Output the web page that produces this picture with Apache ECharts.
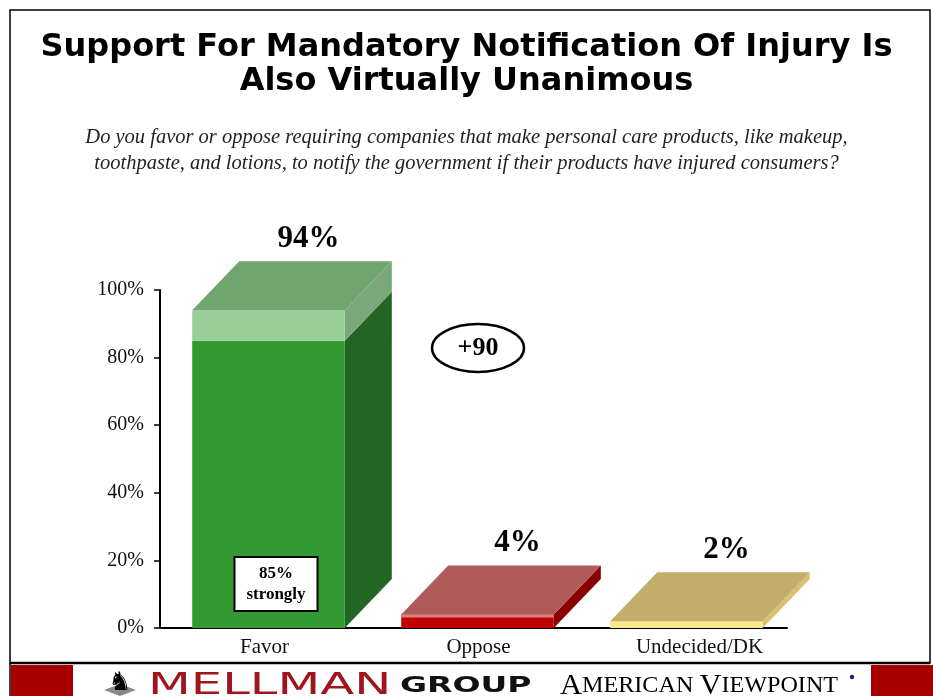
<!DOCTYPE html>
<html>
<head>
<meta charset="utf-8">
<script src="https://cdn.jsdelivr.net/npm/echarts@6/dist/echarts.min.js"></script>
<style>
  html, body { margin: 0; padding: 0; background: #fff; }
  #chart { width: 933px; height: 696px; }
</style>
</head>
<body>
<div id="chart"></div>
<script>
  // data
  const categories = ['Favor', 'Oppose', 'Undecided/DK'];
  const totals = [94, 4, 2];
  const strongly = [85, 0, 0];
  const valueLabels = ['94%', '4%', '2%'];
  const yTicks = [0, 20, 40, 60, 80, 100];

  // colours per bar: front, side, top, band front, band side
  const palette = [
    {front: '#339933', side: '#236623', top: '#6fa56f', bandFront: '#98cf98', bandSide: '#7aa87a'},
    {front: '#c00000', side: '#8a0000', top: '#b05a5a', bandFront: '#d98080', bandSide: '#8a0000'},
    {front: '#f8ea8a', side: '#d9c070', top: '#c3ad6a', bandFront: '#f8ea8a', bandSide: '#d9c070'}
  ];
  const DX = 47, DY = 49; // fake 3d depth

  const chart = echarts.init(document.getElementById('chart'));

  function renderBar(params, api) {
    const idx = api.value(0);
    const total = api.value(1);
    const strong = api.value(2);
    const c = palette[idx];
    const p0 = api.coord([idx, 0]);
    const bw = api.size([1, 0])[0];
    const fw = bw * 0.73;
    const cx = p0[0] + 4;
    const left = cx - fw / 2, right = cx + fw / 2;
    const base = p0[1];
    const topY = api.coord([idx, total])[1];
    const kids = [];

    if (strong > 0) {
      const sY = api.coord([idx, strong])[1];
      kids.push({type: 'polygon', shape: {points: [[right, base], [right + DX, base - DY], [right + DX, sY - DY], [right, sY]]}, style: {fill: c.side}});
      kids.push({type: 'polygon', shape: {points: [[right, sY], [right + DX, sY - DY], [right + DX, topY - DY], [right, topY]]}, style: {fill: c.bandSide}});
      kids.push({type: 'rect', shape: {x: left, y: sY, width: fw, height: base - sY}, style: {fill: c.front}});
      kids.push({type: 'rect', shape: {x: left, y: topY, width: fw, height: sY - topY}, style: {fill: c.bandFront}});
    } else {
      kids.push({type: 'polygon', shape: {points: [[right, base], [right + DX, base - DY], [right + DX, topY - DY], [right, topY]]}, style: {fill: c.side}});
      kids.push({type: 'rect', shape: {x: left, y: topY, width: fw, height: base - topY}, style: {fill: c.front}});
      kids.push({type: 'rect', shape: {x: left, y: topY, width: fw, height: 3}, style: {fill: c.bandFront}});
    }
    kids.push({type: 'polygon', shape: {points: [[left, topY], [right, topY], [right + DX, topY - DY], [left + DX, topY - DY]]}, style: {fill: c.top}});

    kids.push({type: 'text', style: {
      text: valueLabels[idx], x: cx + 40, y: topY - DY - 22,
      align: 'center', verticalAlign: 'middle',
      font: 'bold 31px "Liberation Serif"', fill: '#000'
    }});

    if (strong > 0) {
      const by = api.coord([idx, 13])[1];
      kids.push({type: 'rect', shape: {x: cx - 34, y: by - 27, width: 83, height: 54}, style: {fill: '#fff', stroke: '#000', lineWidth: 2}});
      kids.push({type: 'text', style: {
        text: strong + '%\nstrongly', x: cx + 7.5, y: by,
        align: 'center', verticalAlign: 'middle', lineHeight: 21,
        font: 'bold 17px "Liberation Serif"', fill: '#000'
      }});
    }
    return {type: 'group', children: kids};
  }

  chart.setOption({
    animation: false,
    backgroundColor: '#fff',
    title: [{
      text: 'Support For Mandatory Notification Of Injury Is\nAlso Virtually Unanimous',
      left: 'center', top: 26,
      textStyle: {fontFamily: 'DejaVu Sans', fontWeight: 'bold', fontSize: 32, lineHeight: 34, color: '#000'}
    }, {
      text: 'Do you favor or oppose requiring companies that make personal care products, like makeup,\ntoothpaste, and lotions, to notify the government if their products have injured consumers?',
      left: 'center', top: 120,
      textStyle: {fontFamily: 'Liberation Serif', fontStyle: 'italic', fontWeight: 'normal', fontSize: 20.5, lineHeight: 26, color: '#222'}
    }],
    grid: {left: 160, right: 146, top: 290, bottom: 68},
    xAxis: {
      type: 'category',
      data: categories,
      axisLine: {lineStyle: {color: '#000', width: 2}},
      axisTick: {show: false},
      axisLabel: {
        interval: 0,
        fontFamily: 'Liberation Serif', fontSize: 21, color: '#111', margin: 9,
        formatter: (v, i) => '{c' + i + '|' + v + '}',
        rich: {
          c0: {fontFamily: 'Liberation Serif', fontSize: 21, color: '#111', padding: [0, 0, 0, 0]},
          c1: {fontFamily: 'Liberation Serif', fontSize: 21, color: '#111', padding: [0, 0, 0, 10]},
          c2: {fontFamily: 'Liberation Serif', fontSize: 21, color: '#111', padding: [0, 0, 0, 34]}
        }
      }
    },
    yAxis: {
      type: 'value', min: 0, max: 100, interval: 20,
      axisLine: {show: true, lineStyle: {color: '#000', width: 2}},
      axisTick: {show: true, length: 6, lineStyle: {color: '#000', width: 1.5}},
      splitLine: {show: false},
      axisLabel: {
        fontFamily: 'Liberation Serif', fontSize: 20, color: '#111', margin: 16,
        formatter: v => yTicks.indexOf(v) >= 0 ? v + '%' : ''
      }
    },
    series: [{
      type: 'custom',
      clip: false,
      renderItem: renderBar,
      data: categories.map((c, i) => [i, totals[i], strongly[i]])
    }],
    graphic: [
      {type: 'rect', shape: {x: 10, y: 10, width: 920, height: 653}, style: {fill: 'none', stroke: '#000', lineWidth: 1.5}, z: 10},
      {type: 'line', shape: {x1: 10, y1: 663, x2: 930, y2: 663}, style: {stroke: '#000', lineWidth: 2.5}, z: 10},
      {type: 'line', shape: {x1: 10, y1: 663, x2: 10, y2: 696}, style: {stroke: '#000', lineWidth: 1.5}, z: 10},
      {type: 'rect', shape: {x: 11, y: 665, width: 62, height: 31}, style: {fill: '#a80000'}},
      {type: 'rect', shape: {x: 871, y: 665, width: 62, height: 31}, style: {fill: '#a80000'}},
      {type: 'ellipse', shape: {cx: 478, cy: 348, rx: 46, ry: 24}, style: {fill: '#fff', stroke: '#000', lineWidth: 2.5}},
      {type: 'text', style: {text: '+90', x: 478, y: 348, align: 'center', verticalAlign: 'middle', font: 'bold 26px "Liberation Serif"', fill: '#000'}},
      {type: 'polygon', shape: {points: [[104, 690], [120, 684], [136, 690], [120, 696]]}, style: {fill: '#888'}},
      {type: 'text', style: {text: '\u265E', x: 120, y: 683, align: 'center', verticalAlign: 'middle', font: '26px "DejaVu Sans"', fill: '#000'}},
      {type: 'text', x: 148, y: 686, scaleX: 1.6, style: {text: 'MELLMAN', x: 0, y: 0, align: 'left', verticalAlign: 'middle', font: '31px "DejaVu Sans"', fill: '#a0141e'}},
      {type: 'text', x: 400, y: 686, scaleX: 1.5, style: {text: 'GROUP', x: 0, y: 0, align: 'left', verticalAlign: 'middle', font: 'bold 22px "DejaVu Sans"', fill: '#111'}},
      {type: 'text', x: 560, y: 686, scaleX: 1.05, style: {
        x: 0, y: 0, align: 'left', verticalAlign: 'middle',
        text: '{b|A}{s|MERICAN }{b|V}{s|IEWPOINT}',
        rich: {
          b: {fontFamily: 'Liberation Serif', fontSize: 29, color: '#1c1c8c'},
          s: {fontFamily: 'Liberation Serif', fontSize: 23, color: '#1c1c8c'}
        }
      }},
      {type: 'circle', shape: {cx: 852, cy: 677, r: 2.2}, style: {fill: '#1c1c8c'}}
    ]
  });
</script>
</body>
</html>
